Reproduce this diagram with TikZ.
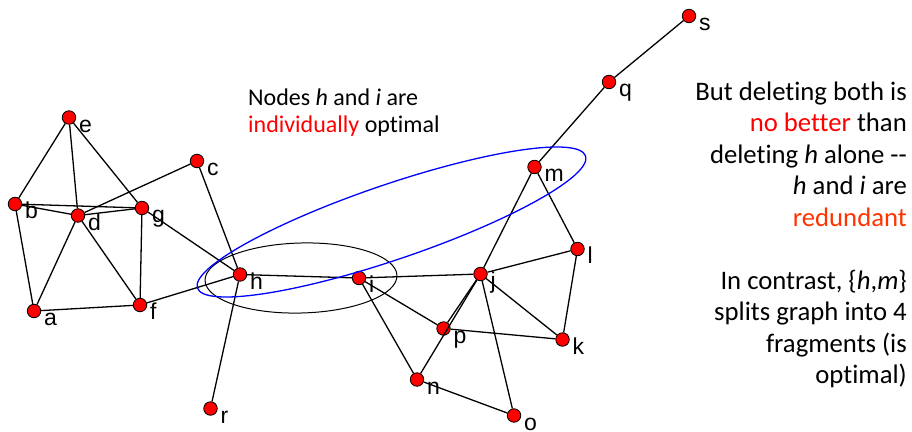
\documentclass[tikz,border=0pt]{standalone}
\usepackage{fontspec}
\usetikzlibrary{shapes.geometric}
\setmainfont{Carlito}[Ligatures={TeX,NoCommon}]
\newfontfamily\lblfont{Liberation Sans}
\definecolor{redund}{RGB}{255,51,0}
\newcommand\vx[3]{\node[vtx] (#1) at (#2,#3) {};
  \node[lbl] (#1-l) at ([xshift=10pt,yshift=-14.5pt]#1.center) {#1};}
\begin{document}
\begin{tikzpicture}[x=1pt,y=-1pt,
  vtx/.style={circle,fill=red,draw=black,line width=0.8pt,inner sep=0pt,minimum size=13.5pt},
  lbl/.style={font=\lblfont\fontsize{23}{23}\selectfont,anchor=base west,inner sep=0pt},
  edge/.style={line width=1.3pt,black},
  ltxt/.style={font=\fontsize{24}{28}\selectfont,anchor=base west,inner sep=0pt},
  rtxt/.style={font=\fontsize{26.7}{31}\selectfont,anchor=base east,inner sep=0pt}]
\useasboundingbox (0,0) rectangle (912,431);
% vertices
\vx{a}{34}{311}
\vx{b}{15}{204}
\vx{c}{197}{161}
\vx{d}{78}{215.5}
\vx{e}{69}{117.5}
\vx{f}{140}{305}
\vx{g}{142}{208}
\vx{h}{240}{274.5}
\vx{i}{359}{278}
\vx{j}{480.5}{274}
\vx{k}{562.5}{339.5}
\vx{l}{577.5}{249}
\vx{m}{534.5}{167}
\vx{n}{417}{379.5}
\vx{o}{514}{415.5}
\vx{p}{443.5}{328.5}
\vx{q}{609}{82}
\vx{r}{210.5}{408.5}
\vx{s}{689}{16}
% edges
\foreach \u/\v in {e/b,e/d,e/g,b/d,b/g,b/a,d/g,d/c,d/a,d/f,g/f,g/h,c/h,a/f,f/h,
  h/i,h/r,i/j,i/p,i/n,j/m,j/l,j/k,j/p,j/n,j/o,m/l,m/q,q/s,l/k,p/k,n/o}
  \draw[edge] (\u) -- (\v);
% ellipses
\node[draw=black,line width=1pt,ellipse,minimum width=192pt,minimum height=70pt,inner sep=0pt,rotate=1.5] (E1) at (301,278) {};
\node[draw=blue,line width=1.3pt,ellipse,minimum width=410pt,minimum height=75pt,inner sep=0pt,rotate=18.8] (E2) at (391.5,222) {};
% left text
\node[ltxt] (t1) at (248,105) {Nodes \textit{h} and \textit{i} are};
\node[ltxt] (t2) at (248,132) {\textcolor{red}{individually} optimal};
% right text
\node[rtxt] (r1) at (907,100) {But deleting both is};
\node[rtxt] (r2) at (907,131.5) {\textcolor{red}{no better} than};
\node[rtxt] (r3) at (907,163) {deleting \textit{h} alone {-}{-}};
\node[rtxt] (r4) at (907,194.5) {\textit{h} and \textit{i} are};
\node[rtxt] (r5) at (907,226) {\textcolor{redund}{redundant}};
\node[rtxt] (r6) at (907,289) {In contrast, \{\textit{h},\textit{m}\}};
\node[rtxt] (r7) at (907,320.5) {splits graph into 4};
\node[rtxt] (r8) at (907,352) {fragments (is};
\node[rtxt] (r9) at (907,383.5) {optimal)};
\end{tikzpicture}
\end{document}
